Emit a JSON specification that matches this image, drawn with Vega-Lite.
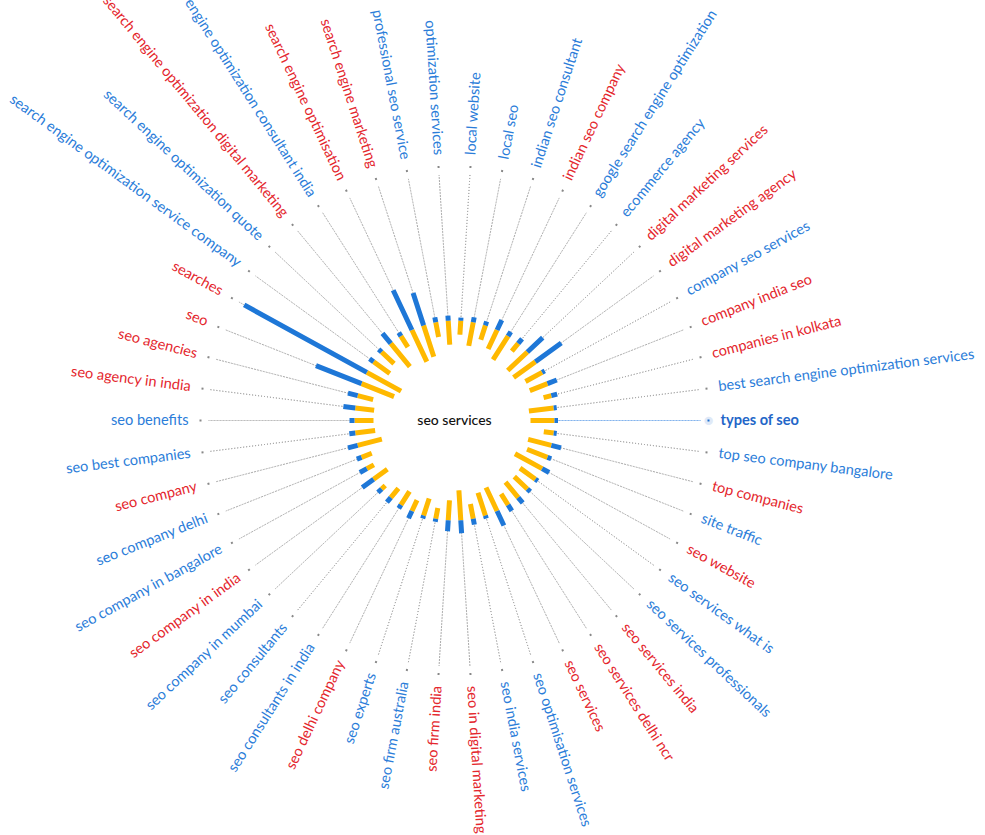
{
  "$schema": "https://vega.github.io/schema/vega-lite/v6.json",
  "width": 909,
  "height": 841,
  "autosize": {"type": "none"},
  "padding": {"left": 0, "top": 0, "right": 76, "bottom": 0},
  "background": "white",
  "config": {"view": {"stroke": null}, "font": "Lato", "text": {"font": "Lato"}},
  "data": {
    "values": [
      {"keyword": "types of seo", "group": "B", "yellow": 24, "blue": 3.5},
      {"keyword": "top seo company bangalore", "group": "B", "yellow": 10, "blue": 3},
      {"keyword": "top companies", "group": "A", "yellow": 24, "blue": 10},
      {"keyword": "site traffic", "group": "B", "yellow": 22, "blue": 4},
      {"keyword": "seo website", "group": "A", "yellow": 31, "blue": 8},
      {"keyword": "seo services what is", "group": "B", "yellow": 19, "blue": 3},
      {"keyword": "seo services professionals", "group": "B", "yellow": 18, "blue": 4},
      {"keyword": "seo services india", "group": "A", "yellow": 20, "blue": 7},
      {"keyword": "seo services delhi ncr", "group": "A", "yellow": 13, "blue": 7},
      {"keyword": "seo services", "group": "A", "yellow": 26, "blue": 16},
      {"keyword": "seo optimisation services", "group": "B", "yellow": 24, "blue": 3},
      {"keyword": "seo india services", "group": "B", "yellow": 15, "blue": 6},
      {"keyword": "seo in digital marketing", "group": "A", "yellow": 30, "blue": 13},
      {"keyword": "seo firm india", "group": "A", "yellow": 20, "blue": 11},
      {"keyword": "seo firm australia", "group": "B", "yellow": 11, "blue": 3},
      {"keyword": "seo experts", "group": "B", "yellow": 18, "blue": 3},
      {"keyword": "seo delhi company", "group": "A", "yellow": 12, "blue": 8},
      {"keyword": "seo consultants in india", "group": "B", "yellow": 16, "blue": 4},
      {"keyword": "seo consultants", "group": "B", "yellow": 12, "blue": 6},
      {"keyword": "seo company in mumbai", "group": "B", "yellow": 5, "blue": 5},
      {"keyword": "seo company in india", "group": "A", "yellow": 17, "blue": 14},
      {"keyword": "seo company in bangalore", "group": "B", "yellow": 8, "blue": 8},
      {"keyword": "seo company delhi", "group": "B", "yellow": 11, "blue": 5},
      {"keyword": "seo company", "group": "A", "yellow": 25, "blue": 10},
      {"keyword": "seo best companies", "group": "B", "yellow": 20, "blue": 6},
      {"keyword": "seo benefits", "group": "B", "yellow": 19, "blue": 5},
      {"keyword": "seo agency in india", "group": "A", "yellow": 19, "blue": 12},
      {"keyword": "seo agencies", "group": "A", "yellow": 16, "blue": 10},
      {"keyword": "seo", "group": "A", "yellow": 35, "blue": 49},
      {"keyword": "searches", "group": "A", "yellow": 39, "blue": 140},
      {"keyword": "search engine optimization service company", "group": "B", "yellow": 20, "blue": 5},
      {"keyword": "search engine optimization quote", "group": "B", "yellow": 17, "blue": 4},
      {"keyword": "search engine optimization digital marketing", "group": "A", "yellow": 30, "blue": 13},
      {"keyword": "search engine optimization consultant india", "group": "B", "yellow": 13, "blue": 4},
      {"keyword": "search engine optimisation", "group": "A", "yellow": 35, "blue": 44},
      {"keyword": "search engine marketing", "group": "A", "yellow": 33, "blue": 34},
      {"keyword": "professional seo service", "group": "B", "yellow": 15, "blue": 5},
      {"keyword": "optimization services", "group": "B", "yellow": 24, "blue": 5},
      {"keyword": "local website", "group": "B", "yellow": 14, "blue": 3},
      {"keyword": "local seo", "group": "B", "yellow": 24, "blue": 5},
      {"keyword": "indian seo consultant", "group": "B", "yellow": 15, "blue": 4},
      {"keyword": "indian seo company", "group": "A", "yellow": 21, "blue": 11},
      {"keyword": "google search engine optimization", "group": "B", "yellow": 28, "blue": 5},
      {"keyword": "ecommerce agency", "group": "B", "yellow": 10, "blue": 6},
      {"keyword": "digital marketing services", "group": "A", "yellow": 27, "blue": 21},
      {"keyword": "digital marketing agency", "group": "A", "yellow": 27, "blue": 32},
      {"keyword": "company seo services", "group": "B", "yellow": 19, "blue": 3},
      {"keyword": "company india seo", "group": "A", "yellow": 19, "blue": 10},
      {"keyword": "companies in kolkata", "group": "A", "yellow": 8, "blue": 6},
      {"keyword": "best search engine optimization services", "group": "B", "yellow": 25, "blue": 3}
    ]
  },
  "transform": [
    {"window": [{"op": "row_number", "as": "r"}], "sort": [{"field": "keyword", "order": "descending"}]}
  ],
  "layer": [
    {
      "mark": {"type": "arc", "filled": false, "strokeWidth": 1, "strokeDash": [1, 2], "strokeJoin": "bevel", "strokeCap": "butt", "radius2": 246},
      "encoding": {
        "theta": {"field": "r", "type": "quantitative", "stack": null, "scale": {"domain": [1, 51], "range": [1.5707963, 7.8539816]}},
        "theta2": {"field": "r"},
        "radius": {"field": "blue", "type": "quantitative", "scale": {"domain": [0, 150], "range": [100, 250]}},
        "color": {"condition": {"test": "datum.keyword === 'types of seo'", "value": "#5b9be6"}, "value": "#a8a8a8"}
      }
    },
    {
      "mark": {"type": "arc", "filled": false, "stroke": "#FFB900", "strokeWidth": 5, "strokeJoin": "bevel", "strokeCap": "butt", "radius2": 100},
      "encoding": {
        "theta": {"field": "r", "type": "quantitative", "stack": null, "scale": {"domain": [1, 51], "range": [1.5707963, 7.8539816]}},
        "theta2": {"field": "r"},
        "radius": {"field": "yellow", "type": "quantitative", "scale": {"domain": [0, 100], "range": [100, 0]}}
      }
    },
    {
      "mark": {"type": "arc", "filled": false, "stroke": "#1E77D7", "strokeWidth": 5, "strokeJoin": "bevel", "strokeCap": "butt", "radius2": 100},
      "encoding": {
        "theta": {"field": "r", "type": "quantitative", "stack": null, "scale": {"domain": [1, 51], "range": [1.5707963, 7.8539816]}},
        "theta2": {"field": "r"},
        "radius": {"field": "blue", "type": "quantitative", "scale": {"domain": [0, 150], "range": [100, 250]}}
      }
    },
    {
      "transform": [{"filter": "datum.keyword === 'types of seo'"}],
      "mark": {"type": "text", "text": "●", "radius": 254, "fontSize": 17, "color": "#dfe9f7", "align": "center", "baseline": "middle"},
      "encoding": {
        "theta": {"field": "r", "type": "quantitative", "stack": null, "scale": {"domain": [1, 51], "range": [1.5707963, 7.8539816]}}
      }
    },
    {
      "mark": {"type": "arc", "filled": false, "strokeWidth": 2, "radius": 255, "radius2": 253, "strokeJoin": "bevel"},
      "encoding": {
        "theta": {"field": "r", "type": "quantitative", "stack": null, "scale": {"domain": [1, 51], "range": [1.5707963, 7.8539816]}},
        "theta2": {"field": "r"},
        "color": {"condition": {"test": "datum.keyword === 'types of seo'", "value": "#1E6FD0"}, "value": "#888888"}
      }
    },
    {
      "transform": [{"filter": "(datum.r <= 13 || datum.r >= 39) && datum.keyword !== 'types of seo'"}],
      "mark": {"type": "text", "radius": 266, "align": "left", "baseline": "middle", "fontSize": 14.6},
      "encoding": {
        "theta": {"field": "r", "type": "quantitative", "stack": null, "scale": {"domain": [1, 51], "range": [1.5707963, 7.8539816]}},
        "angle": {"field": "r", "type": "quantitative", "scale": {"domain": [1, 51], "range": [0, 360]}},
        "text": {"field": "keyword"},
        "color": {"field": "group", "type": "nominal", "scale": {"domain": ["A", "B"], "range": ["#E4262D", "#2B7DD9"]}, "legend": null}
      }
    },
    {
      "transform": [{"filter": "datum.r >= 14 && datum.r <= 38"}],
      "mark": {"type": "text", "radius": 266, "align": "right", "baseline": "middle", "fontSize": 14.6},
      "encoding": {
        "theta": {"field": "r", "type": "quantitative", "stack": null, "scale": {"domain": [1, 51], "range": [1.5707963, 7.8539816]}},
        "angle": {"field": "r", "type": "quantitative", "scale": {"domain": [1, 51], "range": [-180, 180]}},
        "text": {"field": "keyword"},
        "color": {"field": "group", "type": "nominal", "scale": {"domain": ["A", "B"], "range": ["#E4262D", "#2B7DD9"]}, "legend": null}
      }
    },
    {
      "transform": [{"filter": "datum.keyword === 'types of seo'"}],
      "mark": {"type": "text", "radius": 266, "align": "left", "baseline": "middle", "fontSize": 14.6, "fontWeight": "bold", "color": "#2366C8"},
      "encoding": {
        "theta": {"field": "r", "type": "quantitative", "stack": null, "scale": {"domain": [1, 51], "range": [1.5707963, 7.8539816]}},
        "text": {"field": "keyword"}
      }
    },
    {
      "transform": [{"filter": "datum.keyword === 'types of seo'"}],
      "mark": {"type": "text", "text": "seo services", "radius": 0, "align": "center", "baseline": "middle", "fontSize": 14, "fontWeight": 500, "color": "#111111"},
      "encoding": {
        "theta": {"field": "r", "type": "quantitative", "stack": null, "scale": {"domain": [1, 51], "range": [1.5707963, 7.8539816]}}
      }
    }
  ],
  "resolve": {"scale": {"radius": "independent", "angle": "independent", "color": "independent"}}
}
